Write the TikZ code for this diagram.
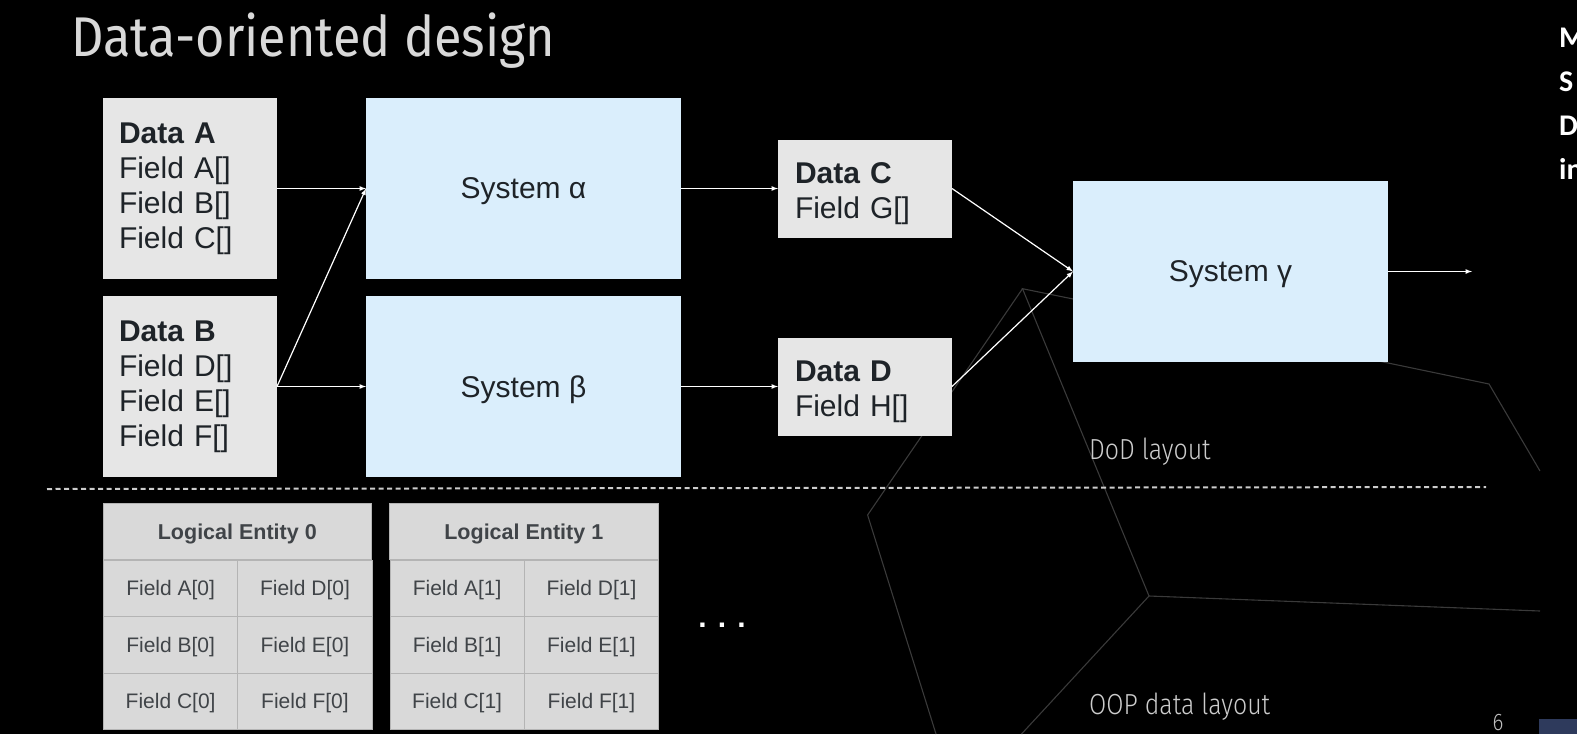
\documentclass[tikz,border=0pt]{standalone}
\usepackage{fontspec}
\setmainfont{Liberation Sans}
\newfontfamily\titlefont[FakeStretch=0.9]{Fira Sans}
\newfontfamily\labelfont[FakeStretch=0.86]{Fira Sans Light}
\newfontfamily\notefont{Carlito}
\usetikzlibrary{matrix,positioning}
\definecolor{slidegrey}{HTML}{E6E6E6}
\definecolor{cellgrey}{HTML}{D9D9D9}
\definecolor{cellline}{HTML}{B4B4B4}
\definecolor{sysblue}{HTML}{DAEEFC}
\definecolor{inkdark}{HTML}{1E2328}
\definecolor{wireframe}{HTML}{3A3A3A}
\definecolor{cornerblue}{HTML}{2E3A5C}
\tikzset{
  databox/.style  = {shape=rectangle, fill=slidegrey, text=inkdark,
                     outer sep=0pt, inner ysep=0pt,
                     minimum width=174pt, align=left,
                     font=\fontsize{30}{35}\selectfont},
  datatall/.style = {databox, minimum height=181pt, inner xsep=16pt, text width=142pt},
  datashort/.style= {databox, minimum height=98pt, inner xsep=17pt, text width=140pt,
                     text depth=30pt},
  system/.style   = {shape=rectangle, fill=sysblue, text=inkdark, outer sep=0pt,
                     minimum width=315pt, minimum height=181pt, text depth=0pt,
                     font=\fontsize{30}{35}\selectfont},
  cell/.style     = {shape=rectangle, draw=cellline, line width=1pt, fill=cellgrey,
                     text=inkdark!85, outer sep=0pt, inner sep=0pt, text depth=0pt,
                     minimum width=134.3pt, minimum height=56.5pt,
                     font=\fontsize{21}{24}\selectfont},
  header/.style   = {cell, minimum width=268.6pt, font=\fontsize{21.5}{24}\bfseries\selectfont},
  caption/.style  = {text=black!20, font=\labelfont\fontsize{29}{34}\selectfont,
                     inner sep=0pt, anchor=west},
  wire/.style     = {draw=wireframe, line width=1.1pt}
}
\begin{document}
\begin{tikzpicture}[x=1pt, y=-1pt, -latex]
  \fill[black] (0,0) rectangle (1577,734);
  \useasboundingbox (0,0) rectangle (1577,734);
  \clip (0,0) rectangle (1577,734);
  % wireframe behind the slide
  \draw[wire,-] (1540,471) -- (1489,384) -- (1388,363) -- (1022.5,288.7)
     -- (1149,596) -- (1540,611);
  \draw[wire,-] (1149,596) -- (1021.5,734);
  \draw[wire,-] (1022.5,288.7) -- (867.6,515) -- (936,734);
  % title and notes
  \node (title) [anchor=west, inner sep=0pt, text=black!15,
    font=\titlefont\fontsize{56}{60}\selectfont] at (71,40.5) {Data-oriented design};
  \node (notes) [anchor=north west, inner sep=0pt, align=left, text=white,
    font=\notefont\fontsize{30}{44}\bfseries\selectfont] at (1559,28) {M\\S\\D\\in};
  % top row
  \node (dataA) [datatall] at (190,188.5) {\textbf{Data A}\\Field A[]\\Field B[]\\Field C[]};
  \node (dataB) [datatall, below=17pt of dataA] {\textbf{Data B}\\Field D[]\\Field E[]\\Field F[]};
  \node (sysA)  [system, right=89pt of dataA] {System α};
  \node (sysB)  [system, right=89pt of dataB] {System β};
  \node (dataC) [datashort, right=97pt of sysA] {\textbf{Data C}\\Field G[]};
  \node (dataD) [datashort, right=97pt of sysB] {\textbf{Data D}\\Field H[]};
  \node (sysG)  [system] at (1230.5,271.5) {System γ};
  \coordinate (out) at (1472,271.5);
  \foreach \from/\to in {dataA/sysA, dataB/sysA, dataB/sysB, sysA/dataC,
                         sysB/dataD, dataC/sysG, dataD/sysG} {
    \draw[white, line width=1.2pt] (\from.east) -- (\to.west);
  }
  \draw[white, line width=1.2pt] (sysG.east) -- (out);
  % separator
  \coordinate (sepL) at (47,489);
  \coordinate (sepR) at (1486,487);
  \draw[-, black!20, line width=2pt, dash pattern=on 5pt off 3.5pt] (sepL) -- (sepR);
  % entity tables
  \foreach \i/\x in {0/103, 1/389.5} {
    \node (head\i) [header, anchor=north west] at (\x,503) {Logical Entity \i};
    \matrix (ent\i)
      [
        matrix of nodes,
        ampersand replacement=\&,
        anchor=north west,
        inner sep=0pt, outer sep=0pt,
        column sep=-1pt,
        row sep=-1pt,
        nodes={cell}
      ] at (head\i.south west)
      {
        Field A[\i] \& Field D[\i] \\
        Field B[\i] \& Field E[\i] \\
        Field C[\i] \& Field F[\i] \\
      };
  }
  \node (more) [text=white, inner sep=0pt, font=\fontsize{30}{34}\bfseries\selectfont] at (722,625) {. . .};
  % labels
  \node (dodlabel) [caption] at (1089,452) {DoD layout};
  \node (ooplabel) [caption] at (1089,707) {OOP data layout};
  \node (pageno) [text=black!25, inner sep=0pt, font=\labelfont\fontsize{24}{28}\selectfont] at (1498,723) {6};
  \fill[cornerblue] (1539,719) rectangle (1577,734);
\end{tikzpicture}
\end{document}
